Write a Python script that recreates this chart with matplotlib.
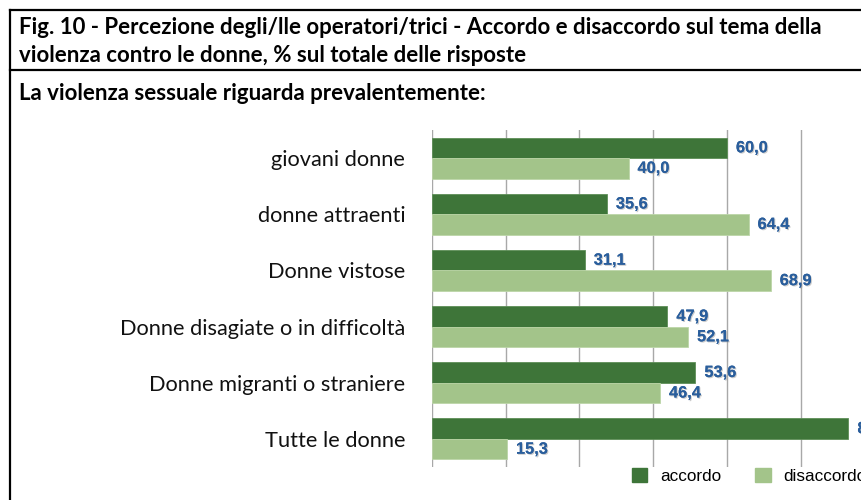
import matplotlib
matplotlib.use("Agg")
import matplotlib.pyplot as plt
import matplotlib.patheffects as pe
from matplotlib.lines import Line2D
import numpy as np

categories = ["giovani donne", "donne attraenti", "Donne vistose",
              "Donne disagiate o in difficoltà", "Donne migranti o straniere",
              "Tutte le donne"]
accordo = [60.0, 35.6, 31.1, 47.9, 53.6, 84.7]
disaccordo = [40.0, 64.4, 68.9, 52.1, 46.4, 15.3]
series_names = ["accordo", "disaccordo"]
xticks = [0, 15, 30, 45, 60, 75]

W, H = 861, 500
fig = plt.figure(figsize=(W / 100, H / 100), dpi=100)

def fx(px):
    return px / W

def fy(py):
    return 1 - py / H

# frame lines
lw = 1.6
fig.add_artist(Line2D([fx(10), 1.0], [fy(10), fy(10)], color="black", lw=lw))
fig.add_artist(Line2D([fx(10), 1.0], [fy(70), fy(70)], color="black", lw=lw))
fig.add_artist(Line2D([fx(10), fx(10)], [fy(10), 0.0], color="black", lw=lw))

# titles
tfs = 16.0
fig.text(fx(19), fy(28), "Fig. 10 - Percezione degli/lle operatori/trici - Accordo e disaccordo sul tema della",
         fontsize=tfs, fontweight="bold", family="Lato", va="center", ha="left")
fig.text(fx(19), fy(56), "violenza contro le donne, % sul totale delle risposte",
         fontsize=tfs, fontweight="bold", family="Lato", va="center", ha="left")
fig.text(fx(19), fy(93), "La violenza sessuale riguarda prevalentemente:",
         fontsize=tfs, fontweight="bold", family="Lato", va="center", ha="left")

# axes
x0, x1 = 431.7, 861
y_top, y_bot = 130, 467
ax = fig.add_axes([fx(x0), fy(y_bot), fx(x1) - fx(x0), (y_bot - y_top) / H])
pxu = 4.92

y = np.arange(len(categories))
bh = 0.365
dark = "#3E7539"
light = "#A3C48A"
ax.barh(y - bh / 2, accordo, height=bh, color=dark, edgecolor="#5E8F58", linewidth=0.6, zorder=3, label=series_names[0])
ax.barh(y + bh / 2, disaccordo, height=bh, color=light, edgecolor="#BCD6A8", linewidth=0.6, zorder=3, label=series_names[1])

ax.set_xticks(xticks)
ax.set_xticklabels([])
ax.set_xlim(0, (x1 - x0) / pxu)
ax.set_ylim(len(categories) - 0.5, -0.5)

shadow = [pe.withSimplePatchShadow(offset=(0.8, -0.8), shadow_rgbFace="#999999", alpha=0.5), pe.Normal()]
off = 9 / pxu
for yi, v in zip(y, accordo):
    ax.text(v + off, yi - bh / 2, f"{v:.1f}".replace(".", ","), va="center", ha="left",
            fontsize=11.8, fontweight="bold", color="#2A5E9C", family="Liberation Sans",
            clip_on=False, zorder=5, path_effects=shadow)
for yi, v in zip(y, disaccordo):
    ax.text(v + off, yi + bh / 2, f"{v:.1f}".replace(".", ","), va="center", ha="left",
            fontsize=11.8, fontweight="bold", color="#2A5E9C", family="Liberation Sans",
            clip_on=False, zorder=5, path_effects=shadow)

ax.xaxis.grid(True, color="#A8A8A8", linewidth=1.0, zorder=0)
ax.tick_params(axis="x", length=0)
ax.set_yticks(y)
ax.set_yticklabels(categories, family="Lato", fontsize=15.7, color="#111111")
ax.tick_params(axis="y", length=0, pad=19)
for s in ax.spines.values():
    s.set_visible(False)

handles = [plt.Rectangle((0, 0), 1, 1, color=dark), plt.Rectangle((0, 0), 1, 1, color=light)]
fig.legend(handles, series_names, loc="center left", bbox_to_anchor=(fx(632), fy(476)),
           ncol=2, frameon=False, prop={"family": "Liberation Sans", "size": 12.3},
           handlelength=0.9, handleheight=0.9, handletextpad=0.75, columnspacing=2.0,
           borderaxespad=0, borderpad=0)

fig.savefig("out.png", dpi=100)
